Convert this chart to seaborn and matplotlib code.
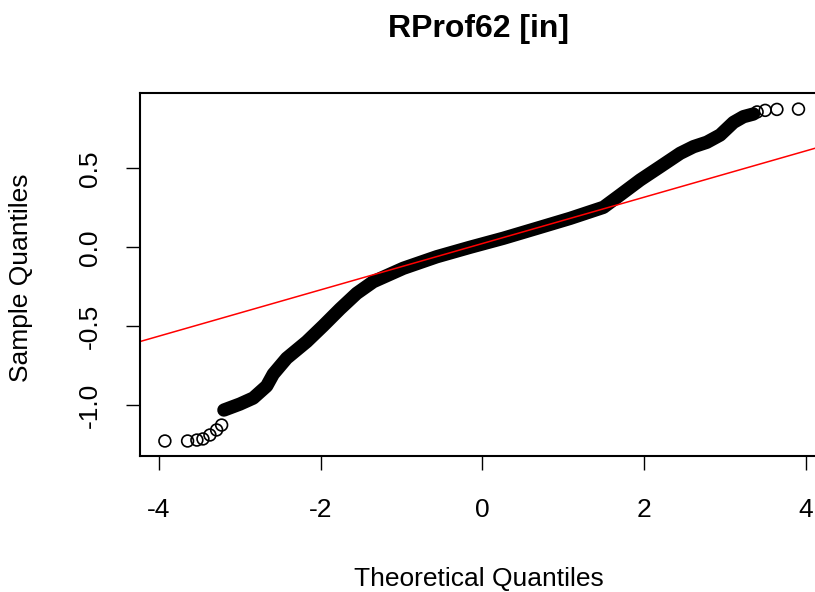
import matplotlib
matplotlib.use("Agg")
import matplotlib.pyplot as plt
import seaborn as sns
import pandas as pd

# ---- data (theoretical vs sample quantiles) ----
band_theoretical = [-3.196, -2.998, -2.833, -2.667, -2.585, -2.420, -2.172, -1.967,
                    -1.760, -1.553, -1.348, -0.976, -0.563, -0.151, 0.261, 0.675,
                    1.087, 1.499, 1.705, 1.953, 2.200, 2.448, 2.613, 2.778, 2.943,
                    3.108, 3.231, 3.355]
band_sample = [-1.030, -0.992, -0.954, -0.878, -0.802, -0.702, -0.597, -0.496,
               -0.390, -0.291, -0.217, -0.132, -0.059, 0.001, 0.058, 0.121,
               0.184, 0.254, 0.332, 0.427, 0.511, 0.596, 0.638, 0.666, 0.712,
               0.792, 0.828, 0.845]
tail_theoretical = [-3.926, -3.645, -3.530, -3.455, -3.369, -3.286, -3.224,
                    3.400, 3.500, 3.645, 3.912]
tail_sample = [-1.226, -1.226, -1.220, -1.213, -1.188, -1.156, -1.125,
               0.858, 0.868, 0.874, 0.876]
qqline_intercept = 0.0245
qqline_slope = 0.1466

x_ticks = [-4, -2, 0, 2, 4]
x_tick_labels = ["-4", "-2", "0", "2", "4"]
y_ticks = [-1.0, -0.5, 0.0, 0.5]
y_tick_labels = ["-1.0", "-0.5", "0.0", "0.5"]

title = "RProf62 [in]"
x_label = "Theoretical Quantiles"
y_label = "Sample Quantiles"

sns.set_theme(style="white")
plt.rcParams["font.family"] = ["Liberation Sans", "DejaVu Sans"]

band = pd.DataFrame({"x": band_theoretical, "y": band_sample})
tails = pd.DataFrame({"x": tail_theoretical, "y": tail_sample})

W, H = 815, 592
fig = plt.figure(figsize=(W / 100, H / 100), dpi=100)
left_px, right_px, top_px, bottom_px = 139.5, 825.0, 93.0, 456.0
ax = fig.add_axes([left_px / W, 1 - bottom_px / H,
                   (right_px - left_px) / W, (bottom_px - top_px) / H])

# dense region of overlapping open circles -> thick black band
sns.lineplot(data=band, x="x", y="y", sort=False, ax=ax, color="black",
             linewidth=9.6, solid_capstyle="round", solid_joinstyle="round")
# sparse tail points as open circles
sns.scatterplot(data=tails, x="x", y="y", ax=ax, marker="o", s=72,
                facecolor="none", edgecolor="black", linewidth=1.2)
ax.axline((0, qqline_intercept), slope=qqline_slope, color="#ff0000", linewidth=1.1)

ax.set_xlim(-4.24, 4.24)
ax.set_ylim(-1.321, 0.978)

ax.set_xticks(x_ticks)
ax.set_xticklabels(x_tick_labels)
ax.set_yticks(y_ticks)
ax.set_yticklabels(y_tick_labels, rotation=90, va="center")

ax.tick_params(axis="both", direction="out", length=10, width=1.0, color="black",
               labelsize=19, labelcolor="black", bottom=True, left=True)
ax.tick_params(axis="x", pad=20)
ax.tick_params(axis="y", pad=17)

for s in ax.spines.values():
    s.set_color("black")
    s.set_linewidth(1.5)

ax.set_xlabel(x_label, fontsize=19, color="black")
ax.set_ylabel(y_label, fontsize=19, color="black")
ax.xaxis.set_label_coords(0.495, -0.305)
ax.yaxis.set_label_coords(-0.155, 0.49)

ax.text(0.495, 1.154, title, transform=ax.transAxes, ha="center", va="baseline",
        fontsize=23, fontweight="bold", color="black")

fig.savefig("out.png", dpi=100)
